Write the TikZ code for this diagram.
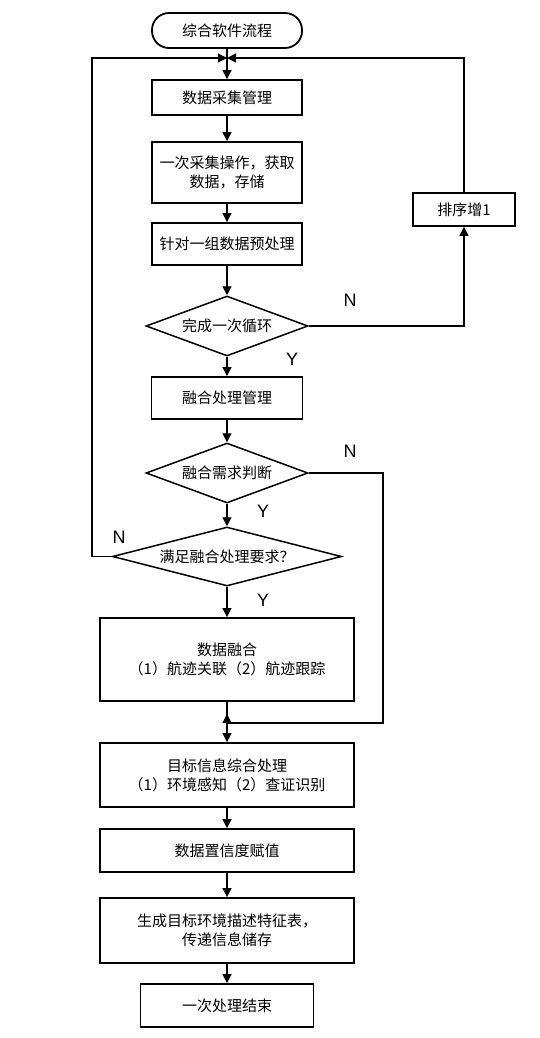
\documentclass[tikz,border=0pt]{standalone}
\usepackage{fontspec}
\setmainfont{Noto Sans CJK SC}
\newfontfamily\latinf{Liberation Sans}
\usetikzlibrary{shapes.geometric,arrows.meta}
\begin{document}
\begin{tikzpicture}[x=1pt,y=-1pt,
  font=\fontsize{15}{19}\selectfont,
  box/.style={draw, line width=1.8pt, inner sep=0pt, align=center},
  term/.style={box, rounded corners=17pt},
  dec/.style={draw, diamond, line width=1.5pt, inner sep=0pt, align=center},
  conn/.style={line width=1.2pt},
  arr/.style={conn, -{Triangle[length=9pt,width=9pt]}},
  lab/.style={font=\latinf\fontsize{18}{20}\selectfont, inner sep=0pt}]
\useasboundingbox (0,0) rectangle (540,1038);
\fill[white] (0,0) rectangle (540,1038);

\node[term, minimum width=150pt, minimum height=35pt] (t) at (227,30.5) {综合软件流程};
\node[box, minimum width=150pt, minimum height=35pt] (b1) at (227,97.5) {数据采集管理};
\node[box, minimum width=150pt, minimum height=61pt] (b2) at (227,172.5) {一次采集操作，获取\\数据，存储};
\node[box, minimum width=150pt, minimum height=42pt] (b3) at (227,244) {针对一组数据预处理};
\node[dec, shape aspect=2.7, minimum width=162pt, minimum height=60pt] (d1) at (227,326) {完成一次循环};
\node[box, minimum width=151pt, minimum height=42pt] (b4) at (227,398) {融合处理管理};
\node[dec, shape aspect=2.7, minimum width=162pt, minimum height=60pt] (d2) at (227,473) {融合需求判断};
\node[dec, shape aspect=3.88, minimum width=229pt, minimum height=59pt] (d3) at (227,556.5) {满足融合处理要求？};
\node[box, minimum width=254pt, minimum height=83pt] (b5) at (227,659.5) {数据融合\\（1）航迹关联（2）航迹跟踪};
\node[box, minimum width=254pt, minimum height=64pt] (b6) at (227,775) {目标信息综合处理\\（1）环境感知（2）查证识别};
\node[box, minimum width=254pt, minimum height=43pt] (b7) at (227,850.5) {数据置信度赋值};
\node[box, minimum width=254pt, minimum height=65pt] (b8) at (227,930.5) {生成目标环境描述特征表，\\传递信息储存};
\node[box, minimum width=173pt, minimum height=43pt] (b9) at (227,1005.5) {一次处理结束};
\node[box, minimum width=102pt, minimum height=33pt] (s) at (464,209.5) {排序增1};

\coordinate (m1) at (227,58);
\coordinate (L) at (92,0);
\coordinate (m2) at (227,723);
\coordinate (m2up) at (227,714);
\coordinate (R) at (383,0);

\draw[arr] (t.south) -- (b1.north);
\draw[arr] (b1.south) -- (b2.north);
\draw[arr] (b2.south) -- (b3.north);
\draw[arr] (b3.south) -- (d1.north);
\draw[arr] (d1.south) -- (b4.north);
\draw[arr] (b4.south) -- (d2.north);
\draw[arr] (d2.south) -- (d3.north);
\draw[arr] (d3.south) -- (b5.north);
\draw[arr] (b5.south) -- (b6.north);
\draw[arr] (b6.south) -- (b7.north);
\draw[arr] (b7.south) -- (b8.north);
\draw[arr] (b8.south) -- (b9.north);

\draw[arr] (d1.east) -| (s.south);
\draw[arr] (s.north) |- (m1);
\draw[arr] (d3.west) -- (d3.west -| L) |- (m1);
\draw[arr] (d2.east) -- (d2.east -| R) |- (m2) -- (m2up);

\node[lab] (n1) at (350,300) {N};
\node[lab] (y1) at (292,359) {Y};
\node[lab] (n2) at (350,451) {N};
\node[lab] (y2) at (263,511) {Y};
\node[lab] (n3) at (119,537) {N};
\node[lab] (y3) at (263,600) {Y};
\end{tikzpicture}
\end{document}
